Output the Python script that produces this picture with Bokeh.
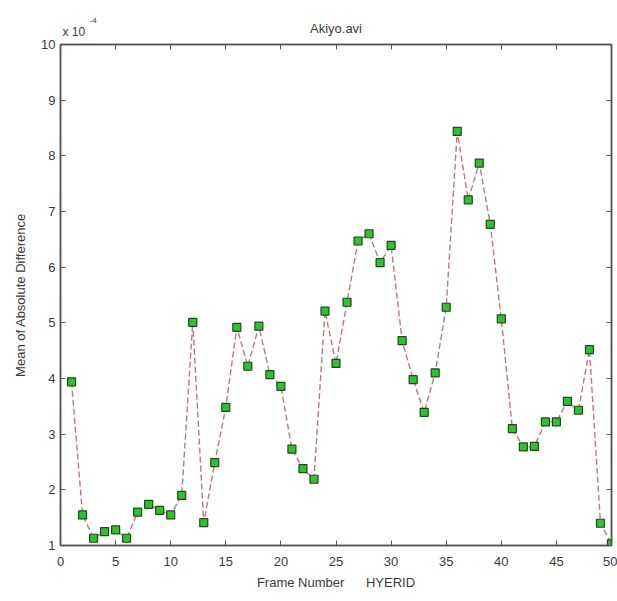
from bokeh.plotting import figure
from bokeh.layouts import column
from bokeh.models import Range1d, LinearAxis, FixedTicker
from bokeh.core.properties import value
from bokeh.embed import file_html
from bokeh.resources import INLINE

frames = list(range(1, 51))
mad_e4 = [3.94, 1.55, 1.13, 1.25, 1.28, 1.13, 1.60, 1.74, 1.63, 1.55,
          1.90, 5.01, 1.41, 2.49, 3.48, 4.92, 4.22, 4.94, 4.07, 3.86,
          2.73, 2.38, 2.19, 5.21, 4.27, 5.37, 6.47, 6.60, 6.08, 6.39,
          4.68, 3.98, 3.39, 4.10, 5.28, 8.44, 7.21, 7.87, 6.77, 5.07,
          3.10, 2.77, 2.78, 3.22, 3.22, 3.59, 3.43, 4.52, 1.40, 1.03]
x_ticks = [0, 5, 10, 15, 20, 25, 30, 35, 40, 45, 50]
y_ticks = [1, 2, 3, 4, 5, 6, 7, 8, 9, 10]
title_text = "Akiyo.avi"
exp_base = "x 10"
exp_power = "-4"
x_label = "Frame Number\u00a0\u00a0\u00a0\u00a0\u00a0\u00a0HYERID"
y_label = "Mean of Absolute Difference"

FONT = "Liberation Sans"
AX = "#555555"
TXT = "#3a3a3a"

W = 617
HEAD_H = 37
LEFT, RIGHT, TOP, BOTTOM = 60, 6, 7, 56
FRAME_H = 501
X0, X1, Y0, Y1 = 0, 50, 1, 10

# ---- header strip (title + axis exponent), frame aligned with the plot frame ----
head = figure(width=W, height=HEAD_H, output_backend="svg", toolbar_location=None,
              x_range=Range1d(X0, X1), y_range=Range1d(0, 1),
              min_border=0, min_border_left=LEFT, min_border_right=RIGHT,
              min_border_top=0, min_border_bottom=0,
              x_axis_location=None, y_axis_location=None)
head.xgrid.visible = False
head.ygrid.visible = False
head.outline_line_color = None
head.background_fill_color = "white"
head.border_fill_color = "white"
# y=1 is the top edge of the strip; y_offset counts pixels downward from it
head.text(x=[X0], y=[1], text=[exp_base], x_offset=2, y_offset=31,
          text_font=value(FONT), text_font_size="12px", text_color=TXT,
          text_align="left", text_baseline="alphabetic")
head.text(x=[X0], y=[1], text=[exp_power], x_offset=29, y_offset=20,
          text_font=value(FONT), text_font_size="8px", text_color=TXT,
          text_align="left", text_baseline="alphabetic")
head.text(x=[(X0 + X1) / 2], y=[1], text=[title_text], y_offset=28,
          text_font=value(FONT), text_font_size="13px", text_color=TXT,
          text_align="center", text_baseline="alphabetic")

# ---- main plot ----
p = figure(width=W, height=TOP + FRAME_H + BOTTOM, output_backend="svg",
           toolbar_location=None,
           x_range=Range1d(X0, X1), y_range=Range1d(Y0, Y1),
           min_border_left=LEFT, min_border_right=RIGHT, min_border_top=TOP,
           min_border_bottom=BOTTOM,
           x_axis_location=None, y_axis_location=None)
p.xgrid.visible = False
p.ygrid.visible = False
p.outline_line_color = AX
p.outline_line_width = 1.5
p.background_fill_color = "white"
p.border_fill_color = "white"

def make_axis(ticks, show):
    ax = LinearAxis(ticker=FixedTicker(ticks=ticks))
    ax.axis_line_color = AX
    ax.axis_line_width = 1.5
    ax.major_tick_in = 5
    ax.major_tick_out = 0
    ax.major_tick_line_color = AX
    ax.minor_tick_line_color = None
    ax.major_label_text_font = FONT
    ax.major_label_text_color = TXT
    ax.axis_label_text_font = FONT
    ax.axis_label_text_font_style = "normal"
    ax.axis_label_text_color = TXT
    if show:
        ax.major_label_text_font_size = "13px"
        ax.axis_label_text_font_size = "13px"
    else:
        ax.major_label_text_font_size = "1px"
        ax.major_label_text_color = None
        ax.major_label_standoff = 0
    return ax

xb = make_axis(x_ticks, True)
xb.axis_label = x_label
xb.major_label_standoff = 11
xb.axis_label_standoff = 6
p.add_layout(xb, "below")

yl = make_axis(y_ticks, True)
yl.axis_label = y_label
yl.major_label_standoff = 5
yl.axis_label_standoff = 10
p.add_layout(yl, "left")

p.add_layout(make_axis(x_ticks, False), "above")
p.add_layout(make_axis(y_ticks, False), "right")

p.line(frames, mad_e4, line_color="#b87a7c", line_width=1.4, line_dash="6 3")
p.scatter(frames, mad_e4, marker="square", size=8, fill_color="#30c030",
          line_color="#1f4a1f", line_width=1.2)

layout = column(head, p, spacing=0)
open("out.html", "w").write(file_html(layout, INLINE))
